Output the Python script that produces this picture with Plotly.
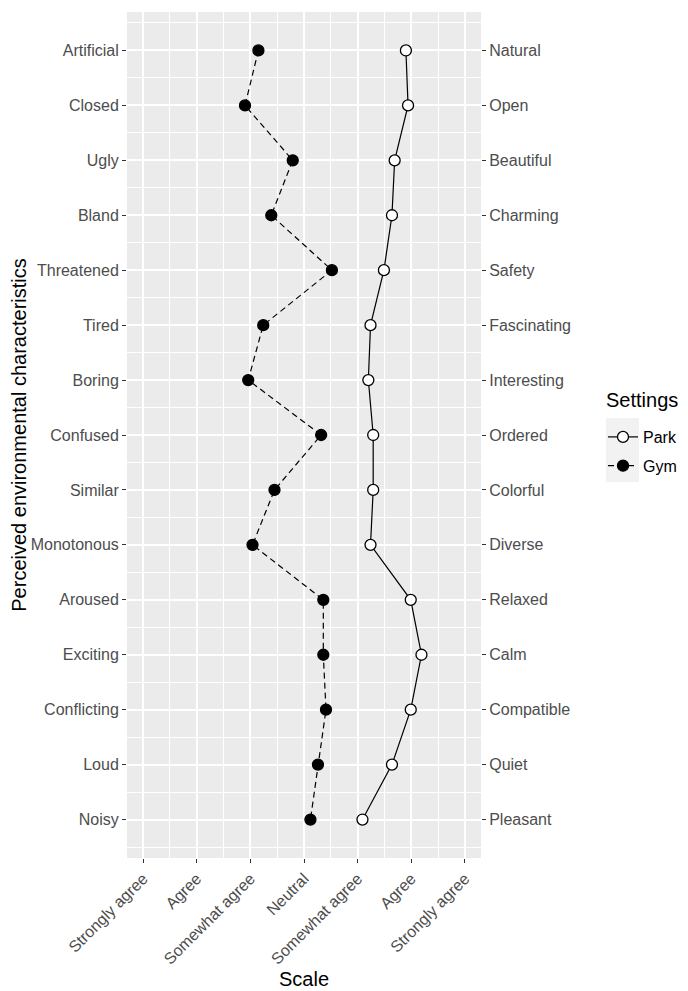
import plotly.graph_objects as go

left_labels = ["Artificial", "Closed", "Ugly", "Bland", "Threatened", "Tired", "Boring",
               "Confused", "Similar", "Monotonous", "Aroused", "Exciting", "Conflicting",
               "Loud", "Noisy"]
right_labels = ["Natural", "Open", "Beautiful", "Charming", "Safety", "Fascinating",
                "Interesting", "Ordered", "Colorful", "Diverse", "Relaxed", "Calm",
                "Compatible", "Quiet", "Pleasant"]
park = [5.90, 5.94, 5.69, 5.64, 5.49, 5.24, 5.20, 5.29, 5.29, 5.24, 5.99, 6.19, 5.99, 5.64, 5.09]
gym = [3.15, 2.90, 3.79, 3.39, 4.52, 3.24, 2.96, 4.32, 3.45, 3.04, 4.36, 4.36, 4.41, 4.26, 4.12]
scale_vals = [1, 2, 3, 4, 5, 6, 7]
scale_labels = ["Strongly agree", "Agree", "Somewhat agree", "Neutral",
                "Somewhat agree", "Agree", "Strongly agree"]

pos = list(range(1, len(left_labels) + 1))
FONT = "Liberation Sans, Arial, sans-serif"

OFF = 8  # default page body margin
W, H = 688 - OFF, 991 - OFF
ML, MT = 127 - OFF, 12 - OFF
MR = W - (481 - OFF)
MB = H - (858 - OFF)
PW, PH = W - ML - MR, H - MT - MB


def px_x(p):
    return (p - OFF - ML) / PW


def px_y(p):
    return (H - MB - (p - OFF)) / PH


fig = go.Figure()
fig.add_trace(go.Scatter(
    x=park, y=pos, mode="lines+markers", name="Park", legendgroup="park",
    line=dict(color="black", width=1.2),
    marker=dict(symbol="circle", size=11, color="white", line=dict(color="black", width=1.3)),
))
fig.add_trace(go.Scatter(
    x=gym, y=pos, mode="lines+markers", name="Gym", legendgroup="gym",
    line=dict(color="black", width=1.2, dash="6px,4px"),
    marker=dict(symbol="circle", size=11, color="black", line=dict(color="black", width=1.3)),
))
# invisible trace to anchor the right-hand axis
fig.add_trace(go.Scatter(x=park, y=pos, yaxis="y2", mode="markers", opacity=0,
                         showlegend=False, hoverinfo="skip"))

tick_font = dict(family=FONT, size=16, color="#4D4D4D")
title_font = dict(family=FONT, size=20, color="black")

fig.update_layout(
    width=W, height=H,
    margin=dict(l=ML, r=MR, t=MT, b=MB, autoexpand=False),
    paper_bgcolor="white",
    plot_bgcolor="#EBEBEB",
    xaxis=dict(
        range=[0.7, 7.3], tickmode="array", tickvals=scale_vals, ticktext=scale_labels,
        tickangle=-45, tickfont=tick_font, ticks="outside", ticklen=4, tickcolor="#333333",
        tickwidth=1.1, showgrid=True, gridcolor="white", gridwidth=1.8, zeroline=False,
        showline=False, automargin=False,
        minor=dict(tickvals=[v + 0.5 for v in scale_vals[:-1]], showgrid=True,
                   gridcolor="white", gridwidth=0.9, ticks=""),
        title=dict(text="Scale", font=title_font, standoff=5),
    ),
    yaxis=dict(
        range=[15.7, 0.3], tickmode="array", tickvals=pos, ticktext=left_labels,
        tickfont=tick_font, ticks="outside", ticklen=4, tickcolor="#333333", tickwidth=1.1,
        showgrid=True, gridcolor="white", gridwidth=1.8, zeroline=False, showline=False,
        automargin=False,
        minor=dict(tickvals=[p + 0.5 for p in [0] + pos], showgrid=True,
                   gridcolor="white", gridwidth=0.9, ticks=""),
        title=dict(text="Perceived environmental characteristics", font=title_font, standoff=10),
    ),
    yaxis2=dict(
        overlaying="y", side="right", range=[15.7, 0.3], tickmode="array", tickvals=pos,
        ticktext=right_labels, tickfont=tick_font, ticks="outside", ticklen=4,
        tickcolor="#333333", tickwidth=1.1, showgrid=False, zeroline=False, showline=False,
        automargin=False,
    ),
    legend=dict(
        font=dict(family=FONT, size=16, color="black"),
        x=px_x(603), xanchor="left", y=px_y(420), yanchor="top",
        bgcolor="rgba(0,0,0,0)", itemwidth=30, traceorder="grouped", tracegroupgap=5,
    ),
    showlegend=True,
    annotations=[dict(text="Settings", xref="paper", yref="paper", x=px_x(604), y=px_y(400),
                      xanchor="left", yanchor="middle", showarrow=False, font=title_font)],
    shapes=[dict(type="rect", xref="paper", yref="paper", x0=px_x(606), x1=px_x(639),
                 y0=px_y(482), y1=px_y(418), fillcolor="#F2F2F2", line=dict(width=0),
                 layer="below")],
)

fig.write_html("out.html")
